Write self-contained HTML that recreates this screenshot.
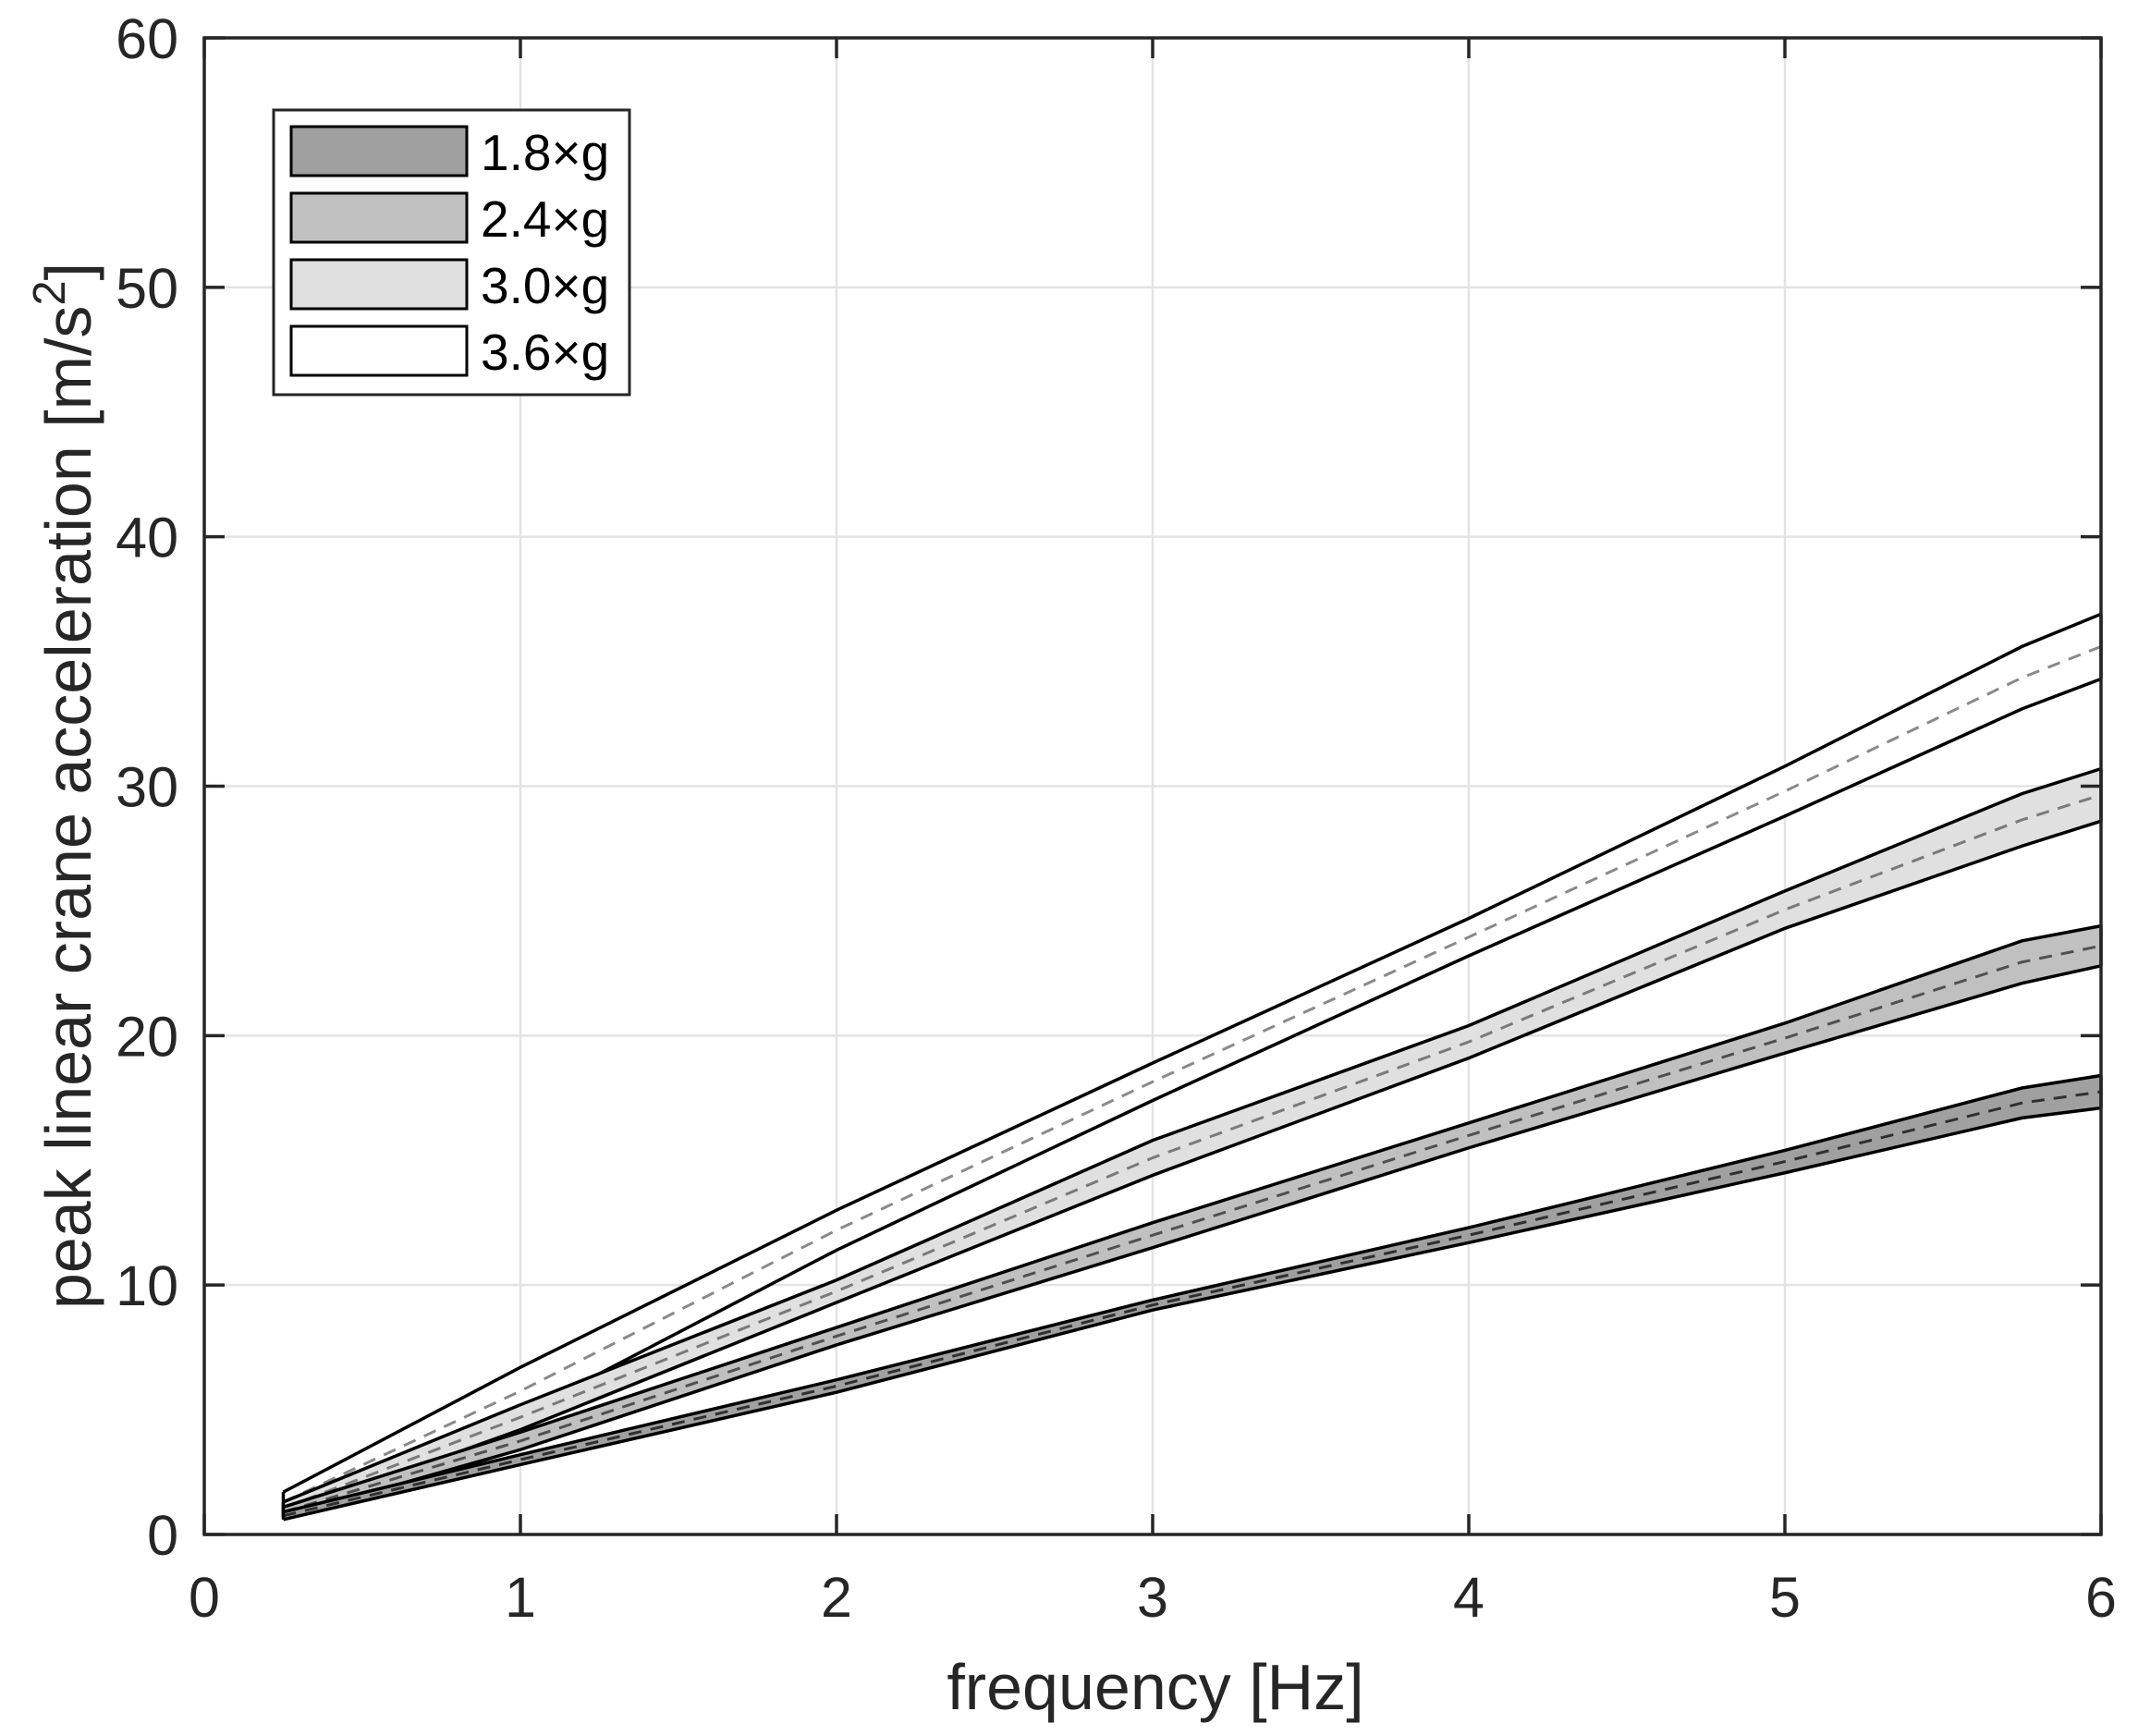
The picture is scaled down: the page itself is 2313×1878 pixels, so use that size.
<!DOCTYPE html>
<html><head><meta charset="utf-8"><style>
html,body{margin:0;padding:0;background:#fff;}
svg{display:block;font-family:"Liberation Sans",Arial,sans-serif;}
</style></head><body>
<svg id="s" width="2313" height="1878" viewBox="0 0 2313 1878" xmlns="http://www.w3.org/2000/svg">
<rect width="2313" height="1878" fill="#fff"/>
<g id="grid" stroke="#e3e3e3" stroke-width="2.5"></g>
<g id="data"></g>
<g id="axes"></g>
<g font-size="61" fill="#262626" id="ticks"></g>
<text x="1250" y="1849" font-size="70" fill="#262626" text-anchor="middle">frequency [Hz]</text>
<text transform="translate(98,850) rotate(-90)" font-size="70" fill="#262626" text-anchor="middle">peak linear crane acceleration [m/s<tspan font-size="49" dy="-28">2</tspan><tspan dy="28">]</tspan></text>
<g id="legend">
<rect x="296" y="119" width="385" height="308" fill="#fff" stroke="#262626" stroke-width="3"/>
<rect x="315" y="137" width="190" height="53" fill="#a0a0a0" stroke="#000" stroke-width="3"/>
<rect x="315" y="209" width="190" height="53" fill="#c0c0c0" stroke="#000" stroke-width="3"/>
<rect x="315" y="281" width="190" height="53" fill="#e0e0e0" stroke="#000" stroke-width="3"/>
<rect x="315" y="353" width="190" height="53" fill="#ffffff" stroke="#000" stroke-width="3"/>
<g font-size="55" fill="#000">
<text x="520" y="184">1.8×g</text>
<text x="520" y="256">2.4×g</text>
<text x="520" y="328">3.0×g</text>
<text x="520" y="400">3.6×g</text>
</g>
</g>
</svg>
<script>
var L=221,R=2273,T=41,B=1660;
function X(f){return L+(R-L)*f/6;}
function Y(v){return B-(B-T)*v/60;}
var NS="http://www.w3.org/2000/svg";
function el(p,n,a){var e=document.createElementNS(NS,n);for(var k in a)e.setAttribute(k,a[k]);p.appendChild(e);return e;}
var g=document.getElementById('grid'),ax=document.getElementById('axes'),tk=document.getElementById('ticks'),d=document.getElementById('data');
for(var i=1;i<6;i++){el(g,'line',{x1:X(i),x2:X(i),y1:T,y2:B});}
for(var j=1;j<6;j++){el(g,'line',{x1:L,x2:R,y1:Y(j*10),y2:Y(j*10)});}
var fs=[0.25,1,2,3,4,5,5.75,6];
var S=[
 {c:'#ffffff',dc:'#8a8a8a',u:[1.7,6.7,13.0,18.9,24.7,30.8,35.6,36.9],l:[0.9,4.8,11.4,17.4,23.2,28.8,33.1,34.3]},
 {c:'#e0e0e0',dc:'#7a7a7a',u:[1.3,5.2,10.2,15.8,20.4,25.8,29.7,30.7],l:[0.8,4.2,9.3,14.4,19.1,24.3,27.6,28.6]},
 {c:'#c0c0c0',dc:'#505050',u:[1.1,4.1,8.3,12.5,16.5,20.5,23.8,24.4],l:[0.7,3.4,7.6,11.5,15.5,19.3,22.1,22.8]},
 {c:'#a0a0a0',dc:'#303030',u:[0.9,3.2,6.2,9.4,12.3,15.4,17.9,18.4],l:[0.6,2.8,5.7,9.0,11.7,14.5,16.7,17.1]}
];
S.forEach(function(s){
 var up=fs.map(function(f,k){return X(f)+','+Y(s.u[k]);});
 var lo=fs.map(function(f,k){return X(f)+','+Y(s.l[k]);});
 var mid=fs.map(function(f,k){return X(f)+','+Y((s.u[k]+s.l[k])/2);});
 el(d,'polygon',{points:up.concat(lo.slice().reverse()).join(' '),fill:s.c,stroke:'none'});
 el(d,'polyline',{points:mid.join(' '),fill:'none',stroke:s.dc,'stroke-width':3,'stroke-dasharray':'14,10'});
 el(d,'polyline',{points:up.join(' '),fill:'none',stroke:'#000','stroke-width':3.5});
 el(d,'polyline',{points:lo.join(' '),fill:'none',stroke:'#000','stroke-width':3.5});
 el(d,'line',{x1:X(0.25),x2:X(0.25),y1:Y(s.u[0]),y2:Y(s.l[0]),stroke:'#000','stroke-width':3.5});
 el(d,'line',{x1:X(6),x2:X(6),y1:Y(s.u[7]),y2:Y(s.l[7]),stroke:'#000','stroke-width':3.5});
});
el(ax,'rect',{x:L,y:T,width:R-L,height:B-T,fill:'none',stroke:'#262626','stroke-width':3.5});
for(var i=0;i<=6;i++){
 el(ax,'line',{x1:X(i),x2:X(i),y1:B,y2:B-22,stroke:'#262626','stroke-width':3.5});
 el(ax,'line',{x1:X(i),x2:X(i),y1:T,y2:T+22,stroke:'#262626','stroke-width':3.5});
 var t=el(tk,'text',{x:X(i),y:1749,'text-anchor':'middle'});t.textContent=i;
}
for(var j=0;j<=6;j++){
 el(ax,'line',{x1:L,x2:L+22,y1:Y(j*10),y2:Y(j*10),stroke:'#262626','stroke-width':3.5});
 el(ax,'line',{x1:R,x2:R-22,y1:Y(j*10),y2:Y(j*10),stroke:'#262626','stroke-width':3.5});
 var t=el(tk,'text',{x:193,y:Y(j*10)+22,'text-anchor':'end'});t.textContent=j*10;
}
</script>
</body></html>
